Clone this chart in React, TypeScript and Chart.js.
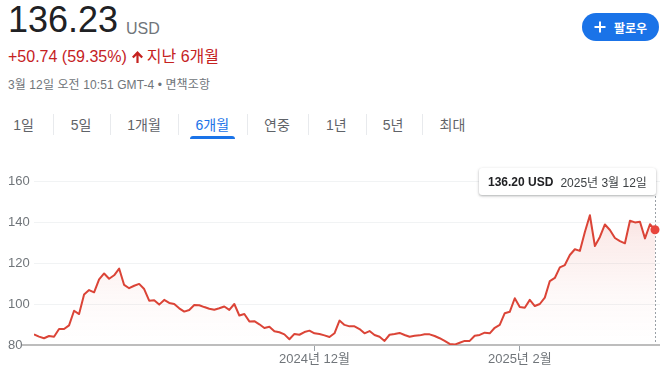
import React, { useEffect, useRef } from "react";
import { Chart, registerables } from "chart.js";

Chart.register(...registerables);

// ---- data ----
const prices: number[] = [
  85.2, 84.1, 83.3, 84.4, 84.0, 87.8, 87.8, 89.6, 96.7, 95.1,
  104.6, 106.8, 105.7, 112.0, 114.9, 112.3, 114.0, 117.3, 109.3, 107.7,
  108.9, 109.8, 107.3, 101.6, 101.8, 99.7, 102.0, 100.5, 100.0, 97.9,
  96.3, 97.1, 99.5, 99.4, 98.5, 97.7, 97.2, 97.9, 98.8, 97.1,
  100.0, 94.4, 95.1, 91.5, 91.6, 90.1, 88.3, 88.9, 86.7, 86.2,
  85.2, 82.8, 85.4, 85.0, 86.3, 87.0, 85.7, 85.4, 84.7, 83.9,
  85.7, 91.9, 89.8, 89.1, 89.1, 87.8, 85.7, 86.8, 84.9, 84.0,
  82.0, 85.0, 85.4, 85.9, 84.9, 84.0, 84.5, 84.7, 85.2, 85.2,
  84.4, 83.3, 82.0, 80.5, 80.2, 81.1, 82.0, 82.0, 84.5, 84.9,
  86.0, 85.7, 88.4, 89.8, 95.5, 96.2, 102.8, 98.5, 98.2, 102.0,
  99.0, 100.0, 103.1, 111.2, 112.7, 117.9, 119.0, 123.9, 126.7, 125.9,
  135.1, 143.3, 128.3, 132.7, 138.8, 136.1, 132.2, 130.7, 129.6, 140.6,
  139.8, 140.1, 132.0, 138.9, 136.2,
];
const yTickValues: number[] = [80, 100, 120, 140, 160];
const xTickIndex: number[] = [56, 97];
const xTickLabels: string[] = ["2024년 12월", "2025년 2월"];
const tabLabels: string[] = ["1일", "5일", "1개월", "6개월", "연중", "1년", "5년", "최대"];
const activeTab = "6개월";
const priceText = "136.23";
const currencyText = "USD";
const changeText = "+50.74 (59.35%)";
const periodText = "지난 6개월";
const dateLine = "3월 12일 오전 10:51 GMT-4 • 면책조항";
const followText = "팔로우";
const tooltipValue = "136.20 USD";
const tooltipDate = "2025년 3월 12일";

// ---- layout ----
const tabCenters = [23.5, 81, 144, 212.3, 277, 336.4, 393, 452.5];
const tabSeparators = [52.5, 109.6, 178.3, 247.4, 308, 365.6, 422.4];

const FONT = 'Arial, "Liberation Sans", "Noto Sans CJK KR", sans-serif';
const LINE = "#db4437";

const overlayPlugin = {
  id: "overlay",
  beforeDatasetsDraw(chart: any) {
    const { ctx, chartArea, scales } = chart;
    const x = Math.round(scales.x.getPixelForValue(prices.length - 1)) + 0.5;
    ctx.save();
    ctx.strokeStyle = "#9aa0a6";
    ctx.lineWidth = 1;
    ctx.setLineDash([2, 2]);
    ctx.beginPath();
    ctx.moveTo(x, 46);
    ctx.lineTo(x, chartArea.bottom);
    ctx.stroke();
    ctx.setLineDash([]);
    ctx.fillStyle = "#bdbdbd";
    ctx.fillRect(22, chartArea.bottom - 1, chartArea.right - 22, 2);
    ctx.restore();
  },
};

function StockChart() {
  const ref = useRef<HTMLCanvasElement | null>(null);
  useEffect(() => {
    if (!ref.current) return;
    const chart = new Chart(ref.current, {
      type: "line",
      data: {
        datasets: [
          {
            data: prices.map((v, i) => ({ x: i, y: v })),
            borderColor: LINE,
            borderWidth: 2,
            tension: 0,
            borderJoinStyle: "round",
            fill: "start",
            backgroundColor: (c: any) => {
              const area = c.chart.chartArea;
              if (!area) return "rgba(219,68,55,0.1)";
              const g = c.chart.ctx.createLinearGradient(0, area.top, 0, area.bottom);
              g.addColorStop(0, "rgba(219,68,55,0.22)");
              g.addColorStop(0.35, "rgba(219,68,55,0.1)");
              g.addColorStop(0.7, "rgba(219,68,55,0.03)");
              g.addColorStop(1, "rgba(219,68,55,0)");
              return g;
            },
            pointRadius: (c: any) => (c.dataIndex === prices.length - 1 ? 4.5 : 0),
            pointHoverRadius: 0,
            pointBackgroundColor: "#e8453c",
            pointBorderWidth: 0,
          } as any,
        ],
      },
      options: {
        animation: false,
        responsive: false,
        maintainAspectRatio: false,
        events: [],
        layout: { padding: { left: 8, right: 9, top: 31, bottom: 0 } },
        plugins: { legend: { display: false }, tooltip: { enabled: false } },
        scales: {
          x: {
            type: "linear",
            min: 0,
            max: 125,
            afterFit: (s: any) => {
              s.height = 28;
            },
            afterBuildTicks: (s: any) => {
              s.ticks = xTickIndex.map((v) => ({ value: v }));
            },
            grid: {
              drawOnChartArea: false,
              drawTicks: true,
              tickLength: 6,
              color: "#9aa0a6",
            },
            border: { display: false },
            ticks: {
              autoSkip: false,
              maxRotation: 0,
              padding: 1,
              color: "#70757a",
              font: { family: FONT, size: 13 },
              callback: (v: any) => {
                const k = xTickIndex.indexOf(Number(v));
                return k >= 0 ? xTickLabels[k] : "";
              },
            },
          },
          y: {
            min: 80,
            max: 160,
            afterFit: (s: any) => {
              s.width = 26;
            },
            afterBuildTicks: (s: any) => {
              s.ticks = yTickValues.map((v) => ({ value: v }));
            },
            grid: { color: "#f1f3f4", drawTicks: false, lineWidth: 1 },
            border: { display: false },
            ticks: {
              crossAlign: "far",
              padding: 0,
              color: "#70757a",
              font: { family: FONT, size: 13 },
            },
          },
        },
      },
      plugins: [overlayPlugin],
    });
    return () => chart.destroy();
  }, []);
  return (
    <canvas
      ref={ref}
      width={669}
      height={223}
      style={{ position: "absolute", left: 0, top: 150, width: 669, height: 223 }}
    />
  );
}

export default function App() {
  return (
    <div
      style={{
        position: "absolute",
        left: 0,
        top: 0,
        width: 669,
        height: 373,
        background: "#fff",
        fontFamily: FONT,
        overflow: "hidden",
      }}
    >
      <div style={{ position: "absolute", left: 8, top: 1.5, fontSize: 36, lineHeight: "36px", color: "#202124", whiteSpace: "nowrap" }}>
        {priceText}
      </div>
      <div style={{ position: "absolute", left: 126, top: 20.5, fontSize: 16, lineHeight: "16px", color: "#70757a" }}>
        {currencyText}
      </div>
      <div style={{ position: "absolute", left: 8, top: 49, fontSize: 16, lineHeight: "16px", color: "#c5221f", whiteSpace: "nowrap", display: "flex", alignItems: "center" }}>
        <span>{changeText}</span>
        <svg width="13" height="14" viewBox="0 0 13 14" style={{ marginLeft: 4, marginRight: 3 }}>
          <path d="M6.5 1L1 6.8L2.6 8.3L5.4 5.4V13H7.6V5.4L10.4 8.3L12 6.8Z" fill="#c5221f" />
        </svg>
        <span>{periodText}</span>
      </div>
      <div style={{ position: "absolute", left: 8, top: 79, fontSize: 12, lineHeight: "12px", color: "#70757a", whiteSpace: "nowrap", letterSpacing: 0.1 }}>
        {dateLine}
      </div>
      <div
        style={{
          position: "absolute",
          left: 582,
          top: 13,
          width: 77,
          height: 28,
          borderRadius: 14,
          background: "#1a73e8",
          color: "#fff",
          display: "flex",
          alignItems: "center",
          justifyContent: "center",
          fontSize: 12,
          fontWeight: 700,
        }}
      >
        <svg width="12" height="12" viewBox="0 0 12 12" style={{ marginRight: 8 }}>
          <path d="M6 0.5V11.5M0.5 6H11.5" stroke="#fff" strokeWidth="2" />
        </svg>
        <span>{followText}</span>
      </div>
      {tabLabels.map((t, i) => (
        <div
          key={t}
          style={{
            position: "absolute",
            left: tabCenters[i],
            top: 118,
            transform: "translateX(-50%)",
            fontSize: 14,
            lineHeight: "14px",
            color: t === activeTab ? "#1a73e8" : "#5f6368",
            whiteSpace: "nowrap",
          }}
        >
          {t}
        </div>
      ))}
      {tabSeparators.map((x, i) => (
        <div key={i} style={{ position: "absolute", left: x, top: 114, width: 1, height: 21, background: "#e8eaed" }} />
      ))}
      <div style={{ position: "absolute", left: 190, top: 136, width: 45, height: 3, background: "#1a73e8", borderRadius: "3px 3px 0 0" }} />
      <StockChart />
      <div
        style={{
          position: "absolute",
          left: 479,
          top: 168,
          width: 177,
          height: 27,
          background: "#fff",
          boxShadow: "0 1px 3px rgba(60,64,67,0.3), 0 1px 2px rgba(60,64,67,0.15)",
          borderRadius: 3,
          display: "flex",
          alignItems: "center",
          paddingLeft: 9,
          boxSizing: "border-box",
          fontSize: 12,
          whiteSpace: "nowrap",
        }}
      >
        <span style={{ color: "#202124", fontWeight: 600 }}>{tooltipValue}</span>
        <span style={{ color: "#3c4043", marginLeft: 7 }}>{tooltipDate}</span>
      </div>
    </div>
  );
}
